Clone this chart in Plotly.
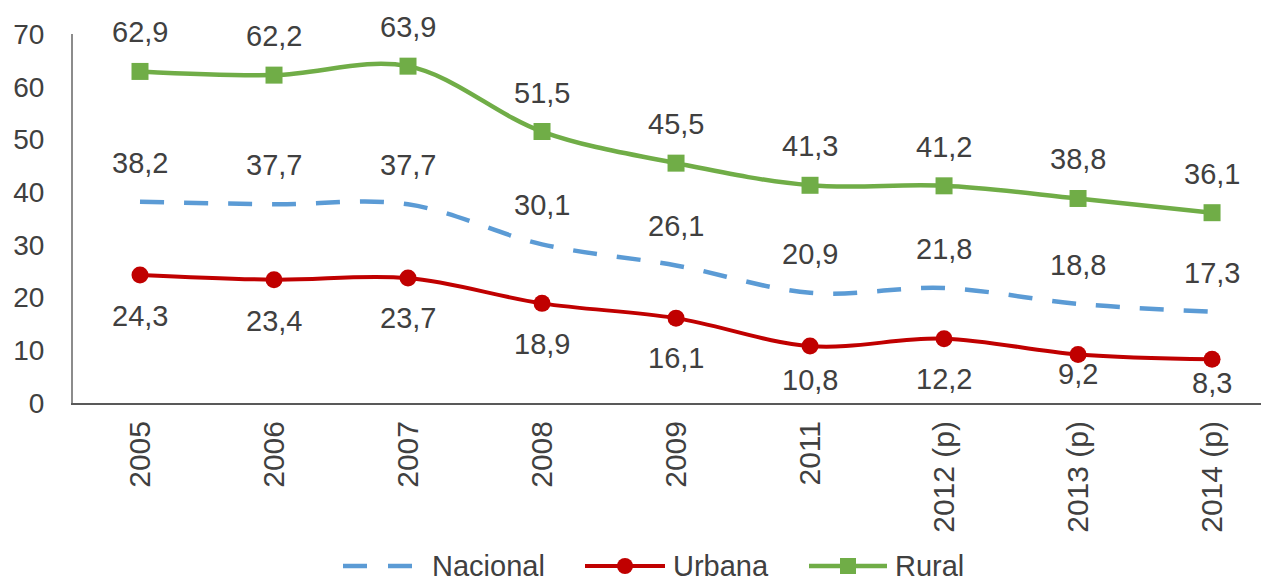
import plotly.graph_objects as go

# ---- data ----
years = ["2005", "2006", "2007", "2008", "2009", "2011", "2012 (p)", "2013 (p)", "2014 (p)"]
nacional = [38.2, 37.7, 37.7, 30.1, 26.1, 20.9, 21.8, 18.8, 17.3]
urbana = [24.3, 23.4, 23.7, 18.9, 16.1, 10.8, 12.2, 9.2, 8.3]
rural = [62.9, 62.2, 63.9, 51.5, 45.5, 41.3, 41.2, 38.8, 36.1]

# ---- styling / label offsets (px) ----
C_NAC = "#5B9BD5"
C_URB = "#C00000"
C_RUR = "#70AD47"
TXT = "#404040"
FONT = "Liberation Sans, Arial, sans-serif"
nac_shift = [39] * 9
rur_shift = [39] * 9
urb_shift = [-41, -41, -40, -41, -40, -34, -40, -19, -24]

OFF = 8  # default page body margin
W, H = 1269 - OFF, 577 - OFF
ML, MR, MT, MB = 73 - OFF, 0, 34 - OFF, 174
PW, PH = W - ML - MR, H - MT - MB


def fmt(v):
    return f"{v:.1f}".replace(".", ",")


def px_x(p):  # page pixel -> paper
    return (p - OFF - ML) / PW


def px_y(p):
    return (H - MB - (p - OFF)) / PH


fig = go.Figure()
fig.add_trace(go.Scatter(x=years, y=nacional, name="Nacional", mode="lines",
                         line=dict(color=C_NAC, width=4.5, dash="24px,20px", shape="spline", smoothing=1),
                         showlegend=False))
fig.add_trace(go.Scatter(x=years, y=urbana, name="Urbana", mode="lines+markers",
                         line=dict(color=C_URB, width=4, shape="spline", smoothing=1),
                         marker=dict(symbol="circle", size=17, color=C_URB),
                         showlegend=False))
fig.add_trace(go.Scatter(x=years, y=rural, name="Rural", mode="lines+markers",
                         line=dict(color=C_RUR, width=4.5, shape="spline", smoothing=1),
                         marker=dict(symbol="square", size=17, color=C_RUR),
                         showlegend=False))

annotations = []
for series, shifts in ((rural, rur_shift), (nacional, nac_shift), (urbana, urb_shift)):
    for i, (v, s) in enumerate(zip(series, shifts)):
        annotations.append(dict(x=i, y=v, xref="x", yref="y", text=fmt(v), showarrow=False,
                                yshift=s, xanchor="center", yanchor="middle",
                                font=dict(family=FONT, size=29, color=TXT)))

# ---- manual legend (bottom) ----
LEG_Y = 566
shapes = []
for a, b in ((343, 367), (388, 412)):
    shapes.append(dict(type="line", xref="paper", yref="paper", x0=px_x(a), x1=px_x(b),
                       y0=px_y(LEG_Y), y1=px_y(LEG_Y), line=dict(color=C_NAC, width=4.5)))
shapes.append(dict(type="line", xref="paper", yref="paper", x0=px_x(585), x1=px_x(665),
                   y0=px_y(LEG_Y), y1=px_y(LEG_Y), line=dict(color=C_URB, width=4)))
shapes.append(dict(type="circle", xref="paper", yref="paper", x0=px_x(617), x1=px_x(633),
                   y0=px_y(LEG_Y + 8), y1=px_y(LEG_Y - 8), fillcolor=C_URB, line=dict(width=0)))
shapes.append(dict(type="line", xref="paper", yref="paper", x0=px_x(809), x1=px_x(887),
                   y0=px_y(LEG_Y), y1=px_y(LEG_Y), line=dict(color=C_RUR, width=4.5)))
shapes.append(dict(type="rect", xref="paper", yref="paper", x0=px_x(840), x1=px_x(856),
                   y0=px_y(LEG_Y + 8), y1=px_y(LEG_Y - 8), fillcolor=C_RUR, line=dict(width=0)))
for name, xp in (("Nacional", 430), ("Urbana", 671), ("Rural", 893)):
    annotations.append(dict(x=px_x(xp), y=px_y(LEG_Y), xref="paper", yref="paper", text=name,
                            showarrow=False, xanchor="left", yanchor="middle",
                            font=dict(family=FONT, size=29, color=TXT)))

fig.update_layout(
    width=W, height=H,
    margin=dict(l=ML, r=MR, t=MT, b=MB, pad=0, autoexpand=False),
    plot_bgcolor="white", paper_bgcolor="white",
    showlegend=False,
    font=dict(family=FONT, size=28, color=TXT),
    annotations=annotations,
    shapes=shapes,
    xaxis=dict(type="category", range=[-0.5, 8.425], showgrid=False, zeroline=False,
               showline=True, linecolor="#595959", linewidth=2, ticks="",
               tickangle=-90, ticklabelstandoff=4, automargin=False,
               tickfont=dict(family=FONT, size=30, color=TXT)),
    yaxis=dict(range=[0, 70], dtick=10, showgrid=False, zeroline=False,
               showline=True, linecolor="#8C8C8C", linewidth=2, ticks="",
               ticklabelstandoff=21, automargin=False,
               tickfont=dict(family=FONT, size=28, color=TXT)),
)

fig.write_html("out.html")
